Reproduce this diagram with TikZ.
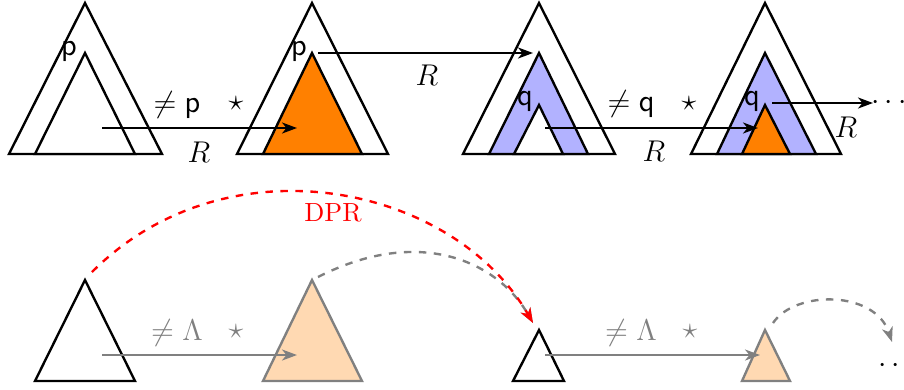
\documentclass[tikz,border=0pt]{standalone}
\usetikzlibrary{arrows.meta}
\begin{document}
\begin{tikzpicture}[x=0.4pt,y=-0.4pt, line width=0.95pt,
  >={Stealth[length=6pt,width=4.4pt,inset=1.8pt]},
  tri/.style={draw=black, line join=miter},
  gtri/.style={draw=gray, fill=orange!30, line join=miter},
  conn/.style={->},
  gconn/.style={->, draw=gray},
  lbl/.style={inner sep=0pt, font=\fontsize{12.5}{14}\selectfont},
  glbl/.style={lbl, text=gray},
]
\useasboundingbox (0,0) rectangle (904,389);
% ---------- top row ----------
% triangle 1
\coordinate (t1o) at (85,3);
\coordinate (t1i) at (85,53);
\draw[tri] (t1o) -- (9,154) -- (162,154) -- cycle;
\draw[tri, fill=white] (t1i) -- (35,154) -- (135,154) -- cycle;
\node[lbl] (p1) at (69,51) {\textsf{p}};
% triangle 2
\coordinate (t2o) at (312,3);
\coordinate (t2i) at (312,53);
\draw[tri] (t2o) -- (237,154) -- (388,154) -- cycle;
\draw[tri, fill=orange] (t2i) -- (263,154) -- (362,154) -- cycle;
\node[lbl] (p2) at (299,51) {\textsf{p}};
% triangle 3
\coordinate (t3o) at (539,3);
\coordinate (t3m) at (539,53);
\coordinate (t3i) at (539,105);
\draw[tri] (t3o) -- (463,154) -- (615,154) -- cycle;
\draw[tri, fill=blue!30] (t3m) -- (489,154) -- (588,154) -- cycle;
\draw[tri, fill=white] (t3i) -- (514,154) -- (563,154) -- cycle;
\node[lbl] (q1) at (525,101) {\textsf{q}};
% triangle 4
\coordinate (t4o) at (765,3);
\coordinate (t4m) at (765,53);
\coordinate (t4i) at (765,105);
\draw[tri] (t4o) -- (691,154) -- (841,154) -- cycle;
\draw[tri, fill=blue!30] (t4m) -- (717,154) -- (816,154) -- cycle;
\draw[tri, fill=orange] (t4i) -- (742,154) -- (790,154) -- cycle;
\node[lbl] (q2) at (752,101) {\textsf{q}};
% arrow endpoints
\coordinate (a1s) at (102,128);
\coordinate (a1e) at (297,128);
\coordinate (a2s) at (318,53);
\coordinate (a2e) at (533,53);
\coordinate (a3s) at (545,128);
\coordinate (a3e) at (758,128);
\coordinate (a4s) at (772,103);
\coordinate (a4e) at (873,103);
\draw[conn] (a1s) -- (a1e);
\draw[conn] (a2s) -- (a2e);
\draw[conn] (a3s) -- (a3e);
\draw[conn] (a4s) -- (a4e);
\node[lbl] (dots1) at (889,103) {$\cdots$};
% labels
\node[lbl] (np) at (177,105) {$\neq\textsf{p}$};
\node[lbl] (s1) at (236,104) {$\star$};
\node[lbl] (R1) at (199,152) {$R$};
\node[lbl] (R2) at (427,75) {$R$};
\node[lbl] (nq) at (631,104) {$\neq\textsf{q}$};
\node[lbl] (s2) at (689,104) {$\star$};
\node[lbl] (R3) at (654,151) {$R$};
\node[lbl] (R4) at (846,127) {$R$};
% ---------- bottom row ----------
\coordinate (bA) at (85,280);
\coordinate (bB) at (312,280);
\coordinate (bC) at (539,330);
\coordinate (bD) at (765,330);
\draw[tri] (bA) -- (35,381) -- (135,381) -- cycle;
\draw[gtri] (bB) -- (263,381) -- (362,381) -- cycle;
\draw[tri] (bC) -- (513,381) -- (564,381) -- cycle;
\draw[gtri] (bD) -- (742,381) -- (790,381) -- cycle;
\coordinate (b1s) at (102,355);
\coordinate (b1e) at (297,355);
\coordinate (b2s) at (545,355);
\coordinate (b2e) at (760,355);
\draw[gconn] (b1s) -- (b1e);
\draw[gconn] (b2s) -- (b2e);
\node[glbl] (nl1) at (177,333) {$\neq\Lambda$};
\node[glbl] (s3) at (236,332) {$\star$};
\node[glbl] (nl2) at (631,333) {$\neq\Lambda$};
\node[glbl] (s4) at (690,332) {$\star$};
% dashed curves
\coordinate (cBs) at (318,277);
\coordinate (cAs) at (92,272);
\coordinate (cCe) at (533,323);
\coordinate (cDs) at (773,323);
\coordinate (cDe) at (892,342);
\draw[gconn, dashed] (cBs) .. controls (420,225) and (498,262) .. (cCe);
\draw[->, red, dashed] (cAs) .. controls (227,137) and (453,184) .. (cCe);
\draw[gconn, dashed] (cDs) .. controls (795,290) and (875,290) .. (cDe);
\node[inner sep=0pt, text=red, font=\fontsize{10.5}{12}\selectfont] (dpr) at (333,213) {DPR};
\node[lbl] (dots2) at (889,366) {$\cdot\,\cdot$};
\end{tikzpicture}
\end{document}
